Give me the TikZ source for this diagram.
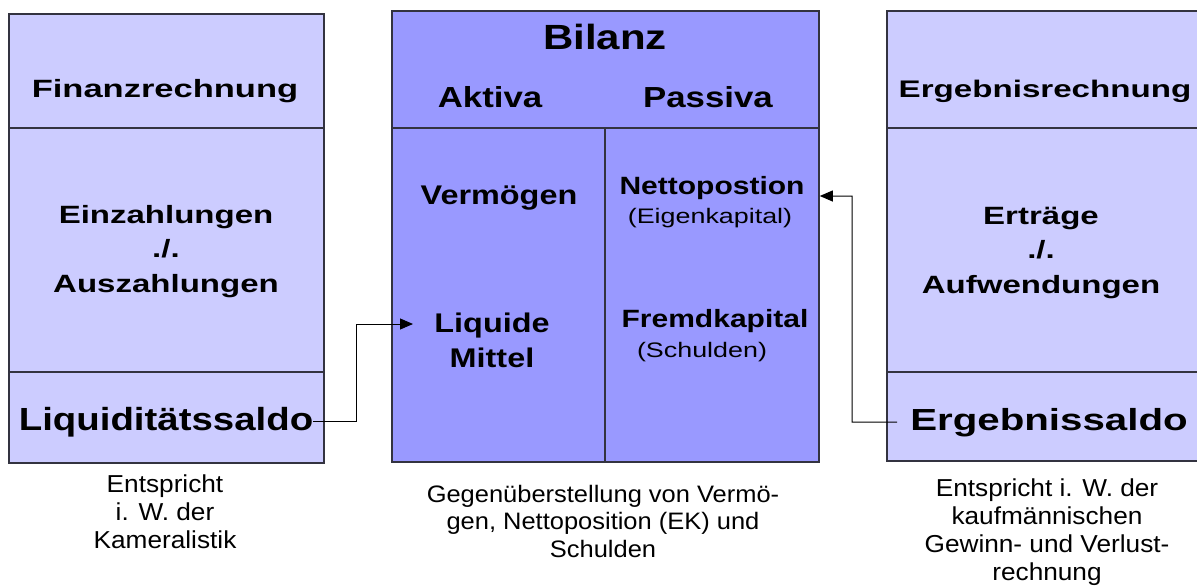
\documentclass[tikz,border=0pt]{standalone}
\usepackage{fontspec}
\setmainfont{Liberation Sans}
\newfontfamily\fA[FakeStretch=1.38]{Liberation Sans}
\newfontfamily\fB[FakeStretch=1.32]{Liberation Sans}
\newfontfamily\fC[FakeStretch=1.2]{Liberation Sans}
\newfontfamily\fD[FakeStretch=1.28]{Liberation Sans}
\newfontfamily\fE[FakeStretch=1.07]{Liberation Sans}
\usetikzlibrary{arrows.meta}
\definecolor{sidefill}{HTML}{CCCCFF}
\definecolor{midfill}{HTML}{9999FF}
\definecolor{edge}{HTML}{333340}
\tikzset{
  panel/.style={draw=edge, line width=1.8pt, anchor=north west, inner sep=0pt},
  sidebox/.style={panel, fill=sidefill},
  midbox/.style={panel, fill=midfill},
  divider/.style={draw=edge, line width=1.5pt},
  txt/.style={inner sep=0pt, anchor=base, align=center},
  caption/.style={txt, font=\fE\fontsize{24.5}{28}\selectfont},
  conn/.style={draw=black, line width=1pt},
  tip/.style={-{Triangle[length=13pt,width=11pt]}},
}
\begin{document}
\begin{tikzpicture}[x=1pt,y=-1pt]
\useasboundingbox (0,0) rectangle (1197,586);
\fill[white] (0,0) rectangle (1197,586);
% panels
\node[sidebox, minimum width=315pt, minimum height=449pt] (fin) at (8,13) {};
\node[midbox, minimum width=427pt, minimum height=451pt] (bil) at (391,10) {};
\node[sidebox, minimum width=330pt, minimum height=450pt] (erg) at (886,10) {};
% dividers
\draw[divider] (fin.west |- 0,128) -- (fin.east |- 0,128);
\draw[divider] (fin.west |- 0,372) -- (fin.east |- 0,372);
\draw[divider] (bil.west |- 0,128) -- (bil.east |- 0,128);
\draw[divider] (605,128) -- (bil.south -| 605,0);
\draw[divider] (erg.west |- 0,128) -- (erg.east |- 0,128);
\draw[divider] (erg.west |- 0,372) -- (erg.east |- 0,372);
% left panel texts (base = baseline of last line)
\node[txt, font=\fA\bfseries\fontsize{25}{29}\selectfont] (finh) at (165,98) {Finanzrechnung};
\node[txt, font=\fB\bfseries\fontsize{25}{34.5}\selectfont] (ein) at (166,292) {Einzahlungen\\./.\\Auszahlungen};
\node[txt, font=\fC\bfseries\fontsize{32}{38}\selectfont] (liqs) at (166,430) {Liquiditätssaldo};
% middle panel texts
\node[txt, font=\fC\bfseries\fontsize{35}{40}\selectfont] (bilh) at (605,50) {Bilanz};
\node[txt, font=\fC\bfseries\fontsize{29}{34}\selectfont] (akt) at (490,107) {Aktiva};
\node[txt, font=\fC\bfseries\fontsize{29}{34}\selectfont] (pas) at (708,107) {Passiva};
\node[txt, font=\fC\bfseries\fontsize{27}{32}\selectfont] (verm) at (499,204) {Vermögen};
\node[txt, font=\fC\bfseries\fontsize{27}{35}\selectfont] (liq) at (492,367) {Liquide\\Mittel};
\node[txt, font=\fC\bfseries\fontsize{25}{30}\selectfont] (net) at (712,194) {Nettopostion};
\node[txt, font=\fD\fontsize{21}{25}\selectfont] (ek) at (710,223) {(Eigenkapital)};
\node[txt, font=\fC\bfseries\fontsize{25}{30}\selectfont] (fk) at (715,327) {Fremdkapital};
\node[txt, font=\fD\fontsize{21}{25}\selectfont] (sch) at (702,357) {(Schulden)};
% right panel texts
\node[txt, font=\fA\bfseries\fontsize{24}{28}\selectfont] (ergh) at (1045,98) {Ergebnisrechnung};
\node[txt, font=\fB\bfseries\fontsize{25}{34.5}\selectfont] (ert) at (1041,293) {Erträge\\./.\\Aufwendungen};
\node[txt, font=\fB\bfseries\fontsize{30.5}{36}\selectfont] (ergs) at (1049,430) {Ergebnissaldo};
% captions
\node[caption] (capl) at (165,548) {Entspricht\\i. W. der\\Kameralistik};
\node[caption, font=\fE\fontsize{23.8}{27.5}\selectfont] (capm) at (603,557) {Gegenüberstellung von Vermö-\\gen, Nettoposition (EK) und\\Schulden};
\node[caption, font=\fE\fontsize{24.5}{27.8}\selectfont] (capr) at (1047,580) {Entspricht i. W. der\\kaufmännischen\\Gewinn- und Verlust-\\rechnung};
% connectors
\coordinate (liqin) at (413,324);
\coordinate (netin) at (bil.east |- 0,196);
\draw[conn, tip] (liqs.east) -- ++(43,0) |- (liqin);
\draw[conn, tip] ([xshift=-13pt]ergs.west) -- (852,422) |- (netin);
\end{tikzpicture}
\end{document}
